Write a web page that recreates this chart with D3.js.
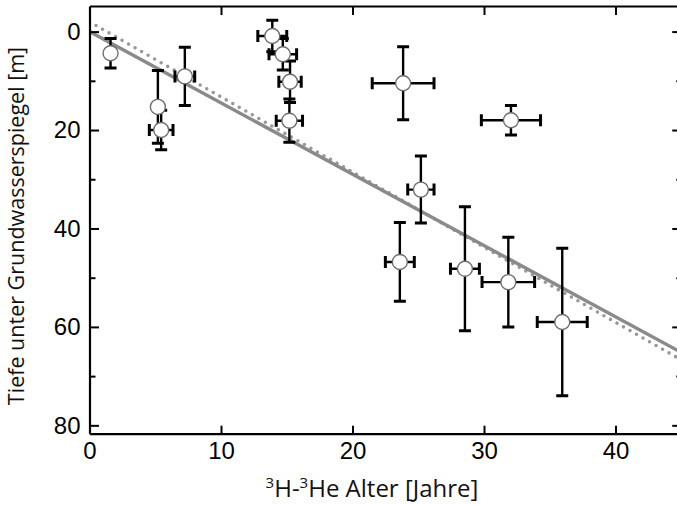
<!DOCTYPE html>
<html>
<head>
<meta charset="utf-8">
<script src="https://cdn.jsdelivr.net/npm/d3@7"></script>
<style>
  html, body { margin: 0; padding: 0; background: #fff; }
  svg { display: block; }
</style>
</head>
<body>
<svg id="chart" width="677" height="506"></svg>
<script>
// ---- data ----
const ages      = [1.6, 5.2, 5.45, 7.25, 13.9, 14.7, 15.25, 15.2, 23.85, 32.05, 25.2, 23.6, 28.55, 31.85, 35.95];
const depths    = [4.4, 15.3, 20.0, 9.1, 0.9, 4.6, 10.2, 18.1, 10.5, 18.0, 32.1, 46.8, 48.2, 50.9, 59.0];
const ageErr    = [0, 0, 0.9, 0.75, 1.1, 1.05, 0.85, 1.0, 2.35, 2.25, 1.0, 1.1, 1.1, 2.0, 1.9];
const depthErr  = [3.0, 7.4, 4.0, 5.9, 3.2, 3.2, 4.2, 4.4, 7.4, 3.0, 6.8, 8.0, 12.6, 9.1, 15.0];
const fitAges   = [0, 45];
const fitSolid  = [0, 65.2];
const fitDotted = [-2.0, 66.7];
const xTicks    = [0, 10, 20, 30, 40];
const yTicks    = [0, 20, 40, 60, 80];
const yMinor    = [10, 30, 50, 70];
const xLabelParts = [["3", true], ["H-", false], ["3", true], ["He Alter [Jahre]", false]];
const yLabel    = "Tiefe unter Grundwasserspiegel [m]";

const svg = d3.select("#chart");
const x = d3.scaleLinear().domain([0, 45]).range([89.5, 681.25]);
const y = d3.scaleLinear().domain([-5.2, 81.7]).range([6, 433.7]);

const pts = ages.map((a, i) => ({a, d: depths[i], ea: ageErr[i], ed: depthErr[i]}));

// clip
svg.append("clipPath").attr("id", "clip").append("rect")
  .attr("x", x(0)).attr("y", y(-5.2)).attr("width", x(45) - x(0)).attr("height", y(81.7) - y(-5.2));

const plot = svg.append("g").attr("clip-path", "url(#clip)");

// fit lines
const lineGen = (vals) => d3.line().x((d, i) => x(fitAges[i])).y(d => y(d))(vals);
plot.append("path").attr("d", lineGen(fitDotted))
  .attr("fill", "none").attr("stroke", "#999").attr("stroke-width", 3.6)
  .attr("stroke-linecap", "round").attr("stroke-dasharray", "0 7.5");
plot.append("path").attr("d", lineGen(fitSolid))
  .attr("fill", "none").attr("stroke", "#8a8a8a").attr("stroke-width", 3.4);

// error bars
const eb = plot.append("g").attr("stroke", "#000").attr("stroke-width", 2.4).attr("fill", "none");
const cap = 6;
pts.forEach(p => {
  const cx = x(p.a), cy = y(p.d);
  if (p.ed > 0) {
    const y1 = y(p.d - p.ed), y2 = y(p.d + p.ed);
    eb.append("line").attr("x1", cx).attr("x2", cx).attr("y1", y1).attr("y2", y2);
    eb.append("line").attr("x1", cx - cap).attr("x2", cx + cap).attr("y1", y1).attr("y2", y1).attr("stroke-width", 3);
    eb.append("line").attr("x1", cx - cap).attr("x2", cx + cap).attr("y1", y2).attr("y2", y2).attr("stroke-width", 3);
  }
  if (p.ea > 0) {
    const x1 = x(p.a - p.ea), x2 = x(p.a + p.ea);
    eb.append("line").attr("x1", x1).attr("x2", x2).attr("y1", cy).attr("y2", cy);
    eb.append("line").attr("x1", x1).attr("x2", x1).attr("y1", cy - cap).attr("y2", cy + cap).attr("stroke-width", 3);
    eb.append("line").attr("x1", x2).attr("x2", x2).attr("y1", cy - cap).attr("y2", cy + cap).attr("stroke-width", 3);
  }
});

// circles
plot.append("g").selectAll("circle").data(pts).join("circle")
  .attr("cx", d => x(d.a)).attr("cy", d => y(d.d)).attr("r", 7.5)
  .attr("fill", "#fff").attr("stroke", "#6e6e6e").attr("stroke-width", 1.4);

// axes
const tickFont = "'Liberation Sans', Arial, sans-serif";
const axB = svg.append("g").attr("transform", `translate(0,${y(81.7)})`)
  .call(d3.axisBottom(x).tickValues(xTicks).tickSizeInner(-8).tickSizeOuter(0).tickPadding(8.5));
const axT = svg.append("g").attr("transform", `translate(0,${y(-5.2)})`)
  .call(d3.axisTop(x).tickValues(xTicks.filter(v => v > 0)).tickSizeInner(-9).tickSizeOuter(0).tickFormat(""));
const axL = svg.append("g").attr("transform", `translate(${x(0)},0)`)
  .call(d3.axisLeft(y).tickValues(yTicks).tickSizeInner(-9.5).tickSizeOuter(0).tickPadding(9));
const axLm = svg.append("g").attr("transform", `translate(${x(0)},0)`)
  .call(d3.axisLeft(y).tickValues(yMinor).tickSizeInner(-6).tickSizeOuter(0).tickFormat(""));
const axR = svg.append("g").attr("transform", `translate(${x(45)},0)`)
  .call(d3.axisRight(y).tickValues(yTicks).tickSizeInner(-9).tickSizeOuter(0).tickFormat(""));
const axRm = svg.append("g").attr("transform", `translate(${x(45)},0)`)
  .call(d3.axisRight(y).tickValues(yMinor).tickSizeInner(-5).tickSizeOuter(0).tickFormat(""));

[axB, axT, axL, axLm, axR, axRm].forEach(g => {
  g.selectAll(".domain").attr("stroke", "#000").attr("stroke-width", 2.2);
  g.selectAll(".tick line").attr("stroke", "#000").attr("stroke-width", 2);
  g.selectAll(".tick text").attr("font-family", tickFont).attr("font-size", 24).attr("fill", "#000");
});
axLm.select(".domain").remove();
axRm.select(".domain").remove();

// axis titles
const titleFont = "'Open Sans', 'Noto Sans', sans-serif";
const xt = svg.append("text").attr("x", 372).attr("y", 497).attr("text-anchor", "middle")
  .attr("font-family", titleFont).attr("font-size", 24).attr("fill", "#111");
xLabelParts.forEach(([t, sup]) => {
  const ts = xt.append("tspan").text(t);
  if (sup) ts.attr("font-size", 15).attr("dy", -9);
  else ts.attr("dy", 9);
});
xt.select("tspan").attr("dy", -9);
svg.append("text").attr("transform", "translate(24,226) rotate(-90)").attr("text-anchor", "middle")
  .attr("font-family", titleFont).attr("font-size", 21.5).attr("fill", "#111").text(yLabel);
</script>
</body>
</html>
